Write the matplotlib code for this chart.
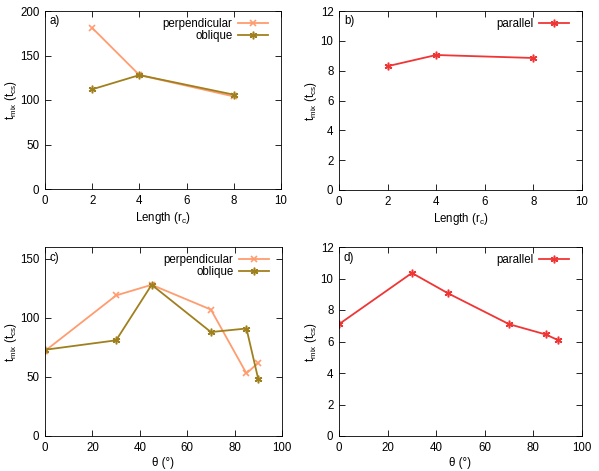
import matplotlib
matplotlib.use('Agg')
import matplotlib.pyplot as plt

# length scan (panels a, b)
length = [2, 4, 8]
len_perp = [181, 128, 104]
len_obl = [112, 128, 106]
len_par = [8.3, 9.05, 8.85]

# angle scan (panels c, d)
theta = [0, 30, 45, 70, 85, 90]
th_perp = [72, 119, 128, 107, 53, 62]
th_obl = [73, 81, 128, 88, 91, 48]
th_par = [7.1, 10.35, 9.05, 7.1, 6.45, 6.1]

c_perp = '#ff9c70'
c_obl = '#a0801e'
c_par = '#f03535'
star = (6, 2, 0)

plt.rcParams['font.size'] = 8.3
plt.rcParams['font.family'] = ['Liberation Sans', 'DejaVu Sans']
plt.rcParams['mathtext.fontset'] = 'custom'
plt.rcParams['mathtext.rm'] = 'Liberation Sans'

fig = plt.figure(figsize=(5.99, 4.71), dpi=100)
W, H = 599, 471


def mk_ax(l, t, r, b):
    return fig.add_axes([l / W, 1 - b / H, (r - l) / W, (b - t) / H])


ax_a = mk_ax(45, 11, 281, 189)
ax_b = mk_ax(339, 11, 582, 190)
ax_c = mk_ax(45, 247, 282, 436)
ax_d = mk_ax(339, 247, 582, 436)

ax_a.plot(length, len_perp, color=c_perp, marker='x', ms=5, mew=1.2, lw=1.3, label='perpendicular')
ax_a.plot(length, len_obl, color=c_obl, marker=star, ms=5.5, mew=1.1, lw=1.3, label='oblique')
ax_a.set_xlim(0, 10)
ax_a.set_ylim(0, 200)
ax_a.set_yticks([0, 50, 100, 150, 200])
ax_a.set_xlabel('Length (r$_\\mathrm{c}$)')

ax_b.plot(length, len_par, color=c_par, marker=star, ms=5.5, mew=1.1, lw=1.3, label='parallel')
ax_b.set_xlim(0, 10)
ax_b.set_ylim(0, 12)
ax_b.set_xlabel('Length (r$_\\mathrm{c}$)')

ax_c.plot(theta, th_perp, color=c_perp, marker='x', ms=5, mew=1.2, lw=1.3, label='perpendicular')
ax_c.plot(theta, th_obl, color=c_obl, marker=star, ms=5.5, mew=1.1, lw=1.3, label='oblique')
ax_c.set_xlim(0, 100)
ax_c.set_ylim(0, 160)
ax_c.set_yticks([0, 50, 100, 150])
ax_c.set_xlabel('θ (°)')

ax_d.plot(theta, th_par, color=c_par, marker=star, ms=5.5, mew=1.1, lw=1.3, label='parallel')
ax_d.set_xlim(0, 100)
ax_d.set_ylim(0, 12)
ax_d.set_xlabel('θ (°)')

# y label centre, in figure pixels from the left
ylab_x = {'a)': 11, 'b)': 311, 'c)': 11, 'd)': 311}
ax_left = {'a)': 45, 'b)': 339, 'c)': 45, 'd)': 339}

for ax, tag in zip([ax_a, ax_b, ax_c, ax_d], ['a)', 'b)', 'c)', 'd)']):
    ax.set_ylabel('t$_\\mathrm{mix}$ (t$_\\mathrm{cs}$)', va='center')
    pos = ax.get_position()
    width, height = pos.width * W, pos.height * H
    ax.yaxis.set_label_coords((ylab_x[tag] - ax_left[tag]) / width, 0.5)
    ax.xaxis.labelpad = 2.5
    ax.tick_params(direction='in', top=True, right=True, length=4, width=0.6, pad=4)
    for s in ax.spines.values():
        s.set_linewidth(0.6)
    ax.text(0.02, 0.975, tag, transform=ax.transAxes, ha='left', va='top')
    ax.legend(loc='upper right', frameon=False, markerfirst=False,
              bbox_to_anchor=(1 - 13 / width, 1 - 7 / height),
              handlelength=2.6, handleheight=0.5, borderaxespad=0,
              labelspacing=0.0, handletextpad=0.5, borderpad=0)

fig.savefig('out.png', dpi=100)
